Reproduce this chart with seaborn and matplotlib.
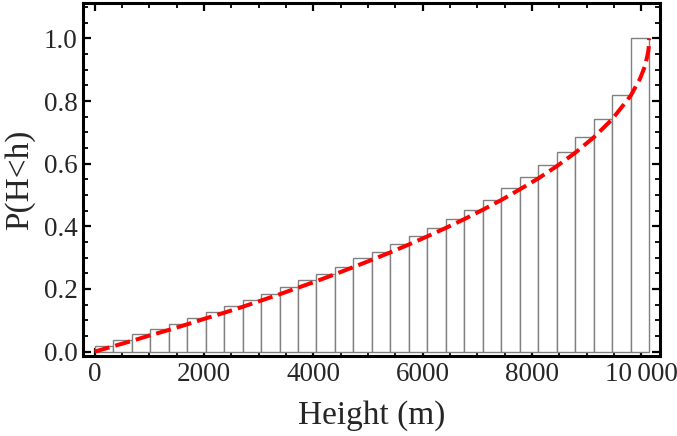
import numpy as np
import pandas as pd
import matplotlib
matplotlib.use("Agg")
import matplotlib.pyplot as plt
import seaborn as sns

# cumulative fraction per bin (30 bins of ~338 m)
bin_width = 338
cum_frac = [0.019, 0.038, 0.055, 0.072, 0.088, 0.106, 0.126, 0.145, 0.164, 0.184,
            0.207, 0.228, 0.247, 0.270, 0.298, 0.319, 0.343, 0.368, 0.396, 0.422,
            0.451, 0.485, 0.522, 0.556, 0.596, 0.636, 0.686, 0.743, 0.820, 1.000]

# theoretical CDF (red dashed curve)
curve_h = [0, 338, 676, 1014, 1352, 1690, 2028, 2366, 2704, 3042, 3380, 3718, 4056,
           4394, 4732, 5070, 5408, 5746, 6084, 6422, 6760, 7098, 7436, 7774, 8112,
           8450, 8788, 9126, 9464, 9802, 9970, 10060, 10110, 10125, 10135, 10140]
curve_p = [0.0, 0.017, 0.034, 0.052, 0.069, 0.087, 0.106, 0.124, 0.143, 0.163, 0.183,
           0.204, 0.225, 0.247, 0.270, 0.293, 0.317, 0.342, 0.368, 0.395, 0.423, 0.453,
           0.484, 0.518, 0.553, 0.592, 0.635, 0.684, 0.742, 0.817, 0.870, 0.910, 0.946,
           0.960, 0.978, 1.0]

x_ticks = [0, 2000, 4000, 6000, 8000, 10000]
x_labels = ["0", "2000", "4000", "6000", "8000", "10\u2009000"]
y_ticks = [0.0, 0.2, 0.4, 0.6, 0.8, 1.0]

sns.set_style("ticks")
plt.rcParams['font.family'] = ['Liberation Serif', 'DejaVu Serif']

n_bins = len(cum_frac)
hist_df = pd.DataFrame({
    "h": np.arange(n_bins) * bin_width + bin_width / 2,
    "p": cum_frac,
})
curve_df = pd.DataFrame({"h": curve_h, "p": curve_p})

fig = plt.figure(figsize=(6.77, 4.36), dpi=100)
ax = fig.add_axes([0.1226, 0.1835, 0.8524, 0.8095])

sns.histplot(data=hist_df, x="h", weights="p", binwidth=bin_width,
             binrange=(0, n_bins * bin_width), stat="count",
             color="white", edgecolor="#808080", linewidth=1.0, alpha=1, ax=ax)
sns.lineplot(data=curve_df, x="h", y="p", color="red", linewidth=2.9, ax=ax)
ax.lines[-1].set_dashes([3.8, 1.5])

ax.set_xlim(-214, 10340)
ax.set_ylim(-0.014, 1.113)
ax.set_xticks(x_ticks)
ax.set_xticklabels(x_labels)
ax.set_yticks(y_ticks)
ax.set_yticklabels([f"{v:.1f}" for v in y_ticks])
ax.set_xticks(np.arange(0, 10500, 500), minor=True)
ax.set_yticks(np.arange(0, 1.11, 0.05), minor=True)

ax.tick_params(which="both", direction="in", top=True, right=True, color="black")
ax.tick_params(which="major", length=6, width=1.6, labelsize=19.5, pad=4)
ax.tick_params(which="minor", length=3.5, width=1.3)
for s in ax.spines.values():
    s.set_linewidth(2.2)
    s.set_color("black")

ax.set_xlabel("Height (m)", fontsize=24, labelpad=10)
ax.set_ylabel("P(H<h)", fontsize=24, labelpad=6)

fig.savefig("out.png", dpi=100)
